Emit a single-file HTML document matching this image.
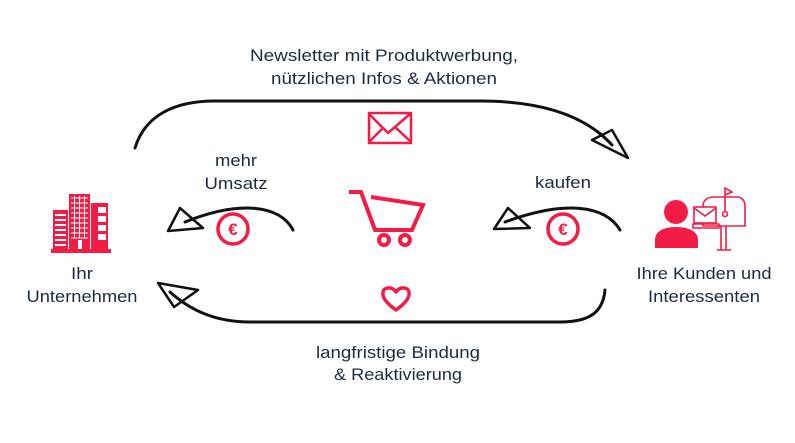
<!DOCTYPE html>
<html><head><meta charset="utf-8"><style>
html,body{margin:0;padding:0;background:#fff;width:795px;height:443px;overflow:hidden}
svg{display:block}
text{font-family:"Liberation Sans",sans-serif;font-size:17px;fill:#1d2a3f}
</style></head><body>
<svg width="795" height="443" viewBox="0 0 795 443">
<g fill="none" stroke="#111" stroke-width="3" stroke-linecap="round">
<path d="M135 148 C145 115 175 101 215 101 L480 101 C540 101 585 115 612 145"/>
<path d="M605 290 C603 312 590 322 560 322 L250 322 C215 322 190 310 170 292"/>
<path d="M293 230 C280 205 240 200 185 222"/>
<path d="M620 230 C605 205 565 200 505 222"/>
</g>
<g fill="none" stroke="#111" stroke-width="2.5" stroke-linejoin="round">
<polygon points="628,158 592,140 612,130"/>
<polygon points="158,283 198,290 174,307"/>
<polygon points="168,231 203,228 180,208"/>
<polygon points="494,229 530,228 508,208"/>
</g>
<!-- euro coins -->
<g fill="none" stroke="#f31c45" stroke-width="3.5">
<circle cx="233" cy="229" r="15"/>
<circle cx="563" cy="229" r="15"/>
</g>
<text x="233" y="235" text-anchor="middle" style="font-size:17px;font-weight:bold;fill:#f31c45">€</text>
<text x="563" y="235" text-anchor="middle" style="font-size:17px;font-weight:bold;fill:#f31c45">€</text>
<!-- envelope -->
<g fill="none" stroke="#f31c45" stroke-width="2.5" stroke-linejoin="round">
<rect x="369" y="113" width="42" height="30"/>
<path d="M369 114 L388 133 L410 114"/>
<path d="M369 142 L383 128 M411 142 L395 127"/>
</g>
<!-- cart -->
<g fill="none" stroke="#f31c45" stroke-width="4" stroke-linejoin="miter">
<path d="M349 192 L361 192 L375 230 L412 230 L423 205 L371 197"/>
<circle cx="384" cy="240" r="5"/>
<circle cx="405" cy="240" r="5"/>
</g>
<!-- heart -->
<path d="M396 310 C386 303 382 297 383 292 C384 287 392 286 396 292 C400 286 408 287 409 292 C410 297 406 303 396 310 Z" fill="none" stroke="#f31c45" stroke-width="3.5" stroke-linejoin="round"/>
<!-- building -->
<g fill="#f31c45">
<rect x="51" y="249" width="60" height="4"/>
<rect x="53" y="210" width="15" height="40"/>
<rect x="69" y="194" width="21" height="56"/>
<rect x="91" y="203" width="17" height="46"/>
</g>
<g fill="#fff">
<rect x="55" y="214" width="11" height="2"/><rect x="55" y="219" width="11" height="2"/><rect x="55" y="224" width="11" height="2"/><rect x="55" y="229" width="11" height="2"/><rect x="55" y="234" width="11" height="2"/><rect x="55" y="239" width="11" height="2"/><rect x="55" y="244" width="11" height="2"/>
<rect x="78" y="240" width="4" height="9"/>
<rect x="98" y="207" width="8" height="6"/><rect x="98" y="216" width="8" height="6"/><rect x="98" y="225" width="8" height="6"/><rect x="98" y="234" width="8" height="6"/>
</g>
<g stroke="#fff" stroke-width="1">
<path d="M71 198 H88 M71 203 H88 M71 208 H88 M71 213 H88 M71 218 H88 M71 223 H88 M71 228 H88 M71 233 H88 M71 238 H88"/>
<path d="M74.5 196 V238 M79.5 196 V238 M84.5 196 V238"/>
</g>
<!-- person -->
<g fill="#f31c45">
<circle cx="676" cy="212" r="12"/>
<path d="M655 248 L655 240 C655 231 664 227 676 227 C688 227 698 231 698 240 L698 248 Z"/>
</g>
<!-- mailbox -->
<g fill="none" stroke="#f31c45" stroke-width="1.6">
<path d="M703 226 L703 206 C703 200 708 197 714 197 L737 197 C742 197 745 201 745 206 L745 226 Z"/>
<path d="M721 226 V250 M726 226 V250 M717 250 H731"/>
<path d="M725 211 V188 L732 192 L725 195"/>
<circle cx="725" cy="214" r="2.5"/>
<rect x="694" y="207" width="22" height="16" fill="#fff"/>
<path d="M694 208 L705 216 L716 208"/>
<path d="M693 224 H719 V228 H693 Z"/>
</g>
<!-- labels -->
<text x="384" y="61" text-anchor="middle" textLength="268" lengthAdjust="spacingAndGlyphs">Newsletter mit Produktwerbung,</text>
<text x="384" y="84" text-anchor="middle" textLength="226" lengthAdjust="spacingAndGlyphs">nützlichen Infos &amp; Aktionen</text>
<text x="398" y="358" text-anchor="middle" textLength="164" lengthAdjust="spacingAndGlyphs">langfristige Bindung</text>
<text x="398" y="380" text-anchor="middle" textLength="128" lengthAdjust="spacingAndGlyphs">&amp; Reaktivierung</text>
<text x="236" y="166" text-anchor="middle" textLength="42" lengthAdjust="spacingAndGlyphs">mehr</text>
<text x="236" y="189" text-anchor="middle" textLength="63" lengthAdjust="spacingAndGlyphs">Umsatz</text>
<text x="563" y="188" text-anchor="middle" textLength="56" lengthAdjust="spacingAndGlyphs">kaufen</text>
<text x="82" y="279" text-anchor="middle" textLength="22" lengthAdjust="spacingAndGlyphs">Ihr</text>
<text x="82" y="302" text-anchor="middle" textLength="111" lengthAdjust="spacingAndGlyphs">Unternehmen</text>
<text x="704" y="279" text-anchor="middle" textLength="135" lengthAdjust="spacingAndGlyphs">Ihre Kunden und</text>
<text x="704" y="302" text-anchor="middle" textLength="112" lengthAdjust="spacingAndGlyphs">Interessenten</text>
</svg>
</body></html>
